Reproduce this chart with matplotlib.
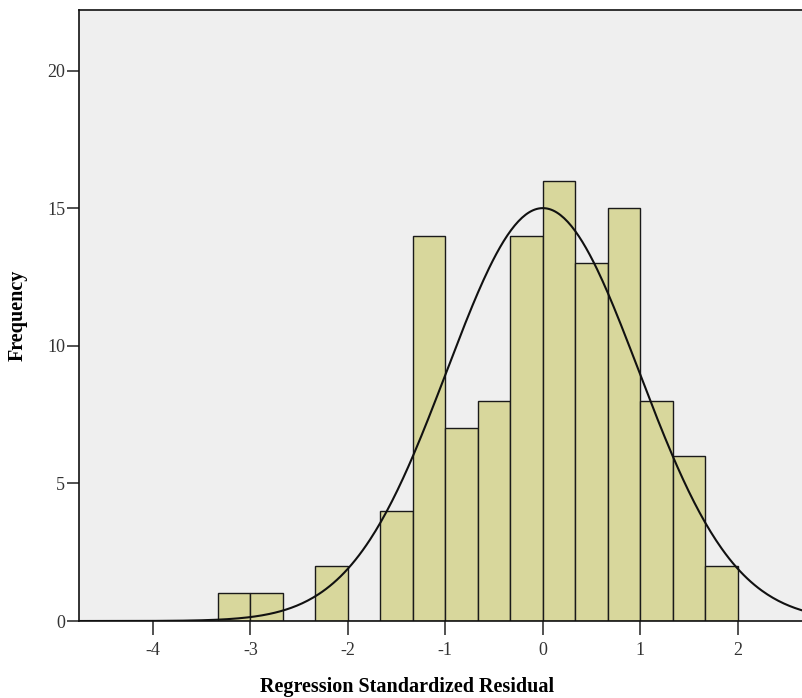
import numpy as np
import matplotlib
matplotlib.use("Agg")
import matplotlib.pyplot as plt

# histogram of regression standardized residuals (bin width 1/3)
bin_edges = np.arange(-10, 7) / 3.0
counts = [1, 1, 0, 2, 0, 4, 14, 7, 8, 14, 16, 13, 15, 8, 6, 2]
curve_mean = 0.0
curve_std = 0.984
n_total = sum(counts)
bin_width = 1.0 / 3.0

xticks = [-4, -3, -2, -1, 0, 1, 2]
yticks = [0, 5, 10, 15, 20]

plt.rcParams['font.family'] = ['Liberation Serif', 'DejaVu Serif']

fig = plt.figure(figsize=(8.02, 6.98), dpi=100)
ax = fig.add_axes([0.0985, 0.1103, 0.9015, 0.8754])
ax.set_facecolor('#efefef')

lefts = bin_edges[:-1]
ax.bar(lefts, counts, width=bin_width, align='edge', color='#d8d79c',
       edgecolor='#1a1a1a', linewidth=1.0, zorder=2)

xs = np.linspace(-4.8, 2.7, 400)
ys = n_total * bin_width / (curve_std * np.sqrt(2 * np.pi)) * \
    np.exp(-0.5 * ((xs - curve_mean) / curve_std) ** 2)
ax.plot(xs, ys, color='#111111', linewidth=1.5, zorder=3)

ax.set_xlim(-4.76, 2.66)
ax.set_ylim(0, 22.2)
ax.set_xticks(xticks)
ax.set_xticklabels([str(t) for t in xticks])
ax.set_yticks(yticks)
ax.tick_params(axis='x', direction='out', length=10, width=1.2, labelsize=13,
               pad=5, colors='#333333')
ax.tick_params(axis='y', direction='out', length=9, width=1.2, labelsize=13,
               pad=1, colors='#333333')
ax.spines['right'].set_visible(False)
for s in ['left', 'bottom', 'top']:
    ax.spines[s].set_linewidth(1.2)
    ax.spines[s].set_color('#111111')

ax.set_xlabel('Regression Standardized Residual', fontsize=14.5, fontweight='bold')
ax.xaxis.set_label_coords(0.4537, -0.092)
ax.set_ylabel('Frequency', fontsize=14.5, fontweight='bold', labelpad=14)

fig.savefig('out.png', dpi=100)
